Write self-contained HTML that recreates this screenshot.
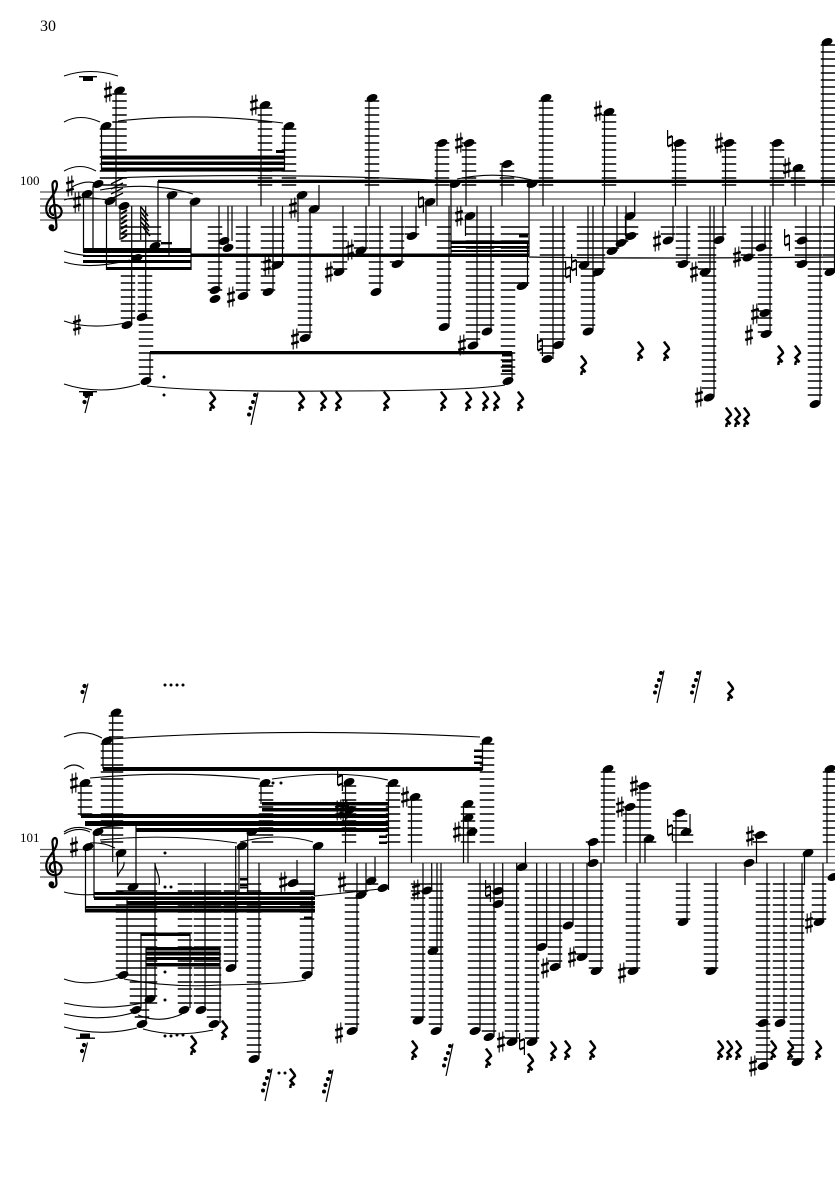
<!DOCTYPE html>
<html><head><meta charset="utf-8"><title>Score page 30</title>
<style>
html,body{margin:0;padding:0;background:#fff}
svg{display:block}
.st{stroke:#555;stroke-width:1.2;fill:none}
.l{stroke:#000;stroke-width:14.5;stroke-dasharray:1.6 5.4;fill:none}
.v{stroke:#000;stroke-width:1.2;fill:none}
.sl{stroke:#000;stroke-width:1.1;fill:none}
.c{stroke:#000;fill:none;stroke-width:2.2}
text{font-family:"Liberation Serif",serif;fill:#000}
</style></head><body>
<svg width="835" height="1181" viewBox="0 0 835 1181" xmlns="http://www.w3.org/2000/svg">
<defs>
<ellipse id="n" rx="5.7" ry="3.6" transform="rotate(-22)"/>
<g id="s"><path d="M-1.8-9.5V10.5M1.8-10.5V9.5" stroke="#000" stroke-width="1.1"/><path d="M-3.8-2.6L3.8-5M-3.8 5L3.8 2.6" stroke="#000" stroke-width="2.6"/></g>
<g id="h"><path d="M-2.4-11V5M2.4-5V11" stroke="#000" stroke-width="1.2"/><path d="M-2.4-3L2.4-5M-2.4 5.500L2.4 3.500" stroke="#000" stroke-width="2.2"/></g>
<path id="r" d="M-2-9.500C0-6 3-4 3-2L-1.500 2.500L2.500 7C0 5.500-2 6-1.500 10" fill="none" stroke="#000" stroke-width="2.500"/>
<g id="t"><path d="M4-16.500L-3 16" stroke="#000" stroke-width="1.200" fill="none"/><circle cx="1" cy="-14" r="2"/><circle cx="-1" cy="-7" r="2"/><circle cx="-3.500" cy="-1" r="2"/><circle cx="-5" cy="5.500" r="2"/></g>
<g id="u"><path d="M3-9.500L-2 10" stroke="#000" stroke-width="1.200" fill="none"/><circle cx="-.5" cy="-7" r="2.100"/><circle cx="-2.500" cy="-1" r="2.100"/></g>
<g id="g"><path class="c" d="M56.500 226L52.500 186C52 182 55 179.500 56.500 182C58.500 187 54 194 50 199C46 204 45 210 48 215C51 219.500 60 219.500 61.500 213C62.500 207 56 203 52 206C48 209 50 215 54 215"/><path class="c" d="M56.500 226C57 231 50 232 49.500 227"/><circle cx="51.500" cy="227" r="2.800"/></g>
</defs>

<text x="40" y="31" font-size="16">30</text>
<text x="20" y="185" font-size="13">100</text>
<text x="20" y="842" font-size="13">101</text>

<!-- staves -->
<path class="st" d="M40 192H835M40 199H835M40 206H835M40 213H835M40 220H835"/>
<path class="st" d="M40 849.500H835M40 856.500H835M40 863H835M40 870H835M40 877H835"/>
<use href="#g"/><use href="#g" y="657"/>

<!-- ledger stacks, system 1 above -->
<path class="l" d="M119.500 93.200V186M107 128.200V186M265 107.200V186M289 128.200V186M372 100.200V186M442 142.200V186M469 142.200V186M507 163.200V186M546 100.200V186M609 114.200V186M679 142.200V186M729 142.200V186M777 142.200V186M798 170.200V186M828 44.200V186"/>
<!-- ledger stacks, system 1 below -->
<path class="l" d="M128 226.200V242M141 226.200V242M154 226.200V242M128 275.200V319M145 275.200V319M146 317.200V375M215 226.200V291M243 226.200V291M268 226.200V291M277 226.200V263M305 226.200V333M340 226.200V270M361 226.200V249M376 226.200V284M397 226.200V263M412 226.200V235M444 226.200V319M473 226.200V340M487 226.200V326M508 226.200V375M522 226.200V284M547 226.200V354M558 226.200V340M584 226.200V263M598 226.200V270M588 226.200V326M612 226.200V249M621 226.200V242M631 226.200V235M668 226.200V235M683 226.200V263M705 226.200V270M709 226.200V392M719 226.200V235M748 226.200V256M761 226.200V249M765 226.200V333M802 226.200V263M815 226.200V399M830 226.200V270"/>
<!-- ledger stacks, system 2 above -->
<path class="l" d="M116 715.200V843M108 743.200V843M85 785.200V815M266 785.200V843M259 834.200V843M349 785.200V843M393 785.200V843M415 799.200V843M468 806.200V843M487 743.200V843M608 771.200V843M630 806.200V843M644 785.200V843M649 841.200V843M680 813.200V843M686 834.200V843M760 834.200V843M593 841.200V843M830 771.200V843"/>
<!-- ledger stacks, system 2 below -->
<path class="l" d="M123 883.200V976M150 883.200V1004M137 883.200V1011M142 883.200V1018M185 883.200V1004M201 883.200V1004M214 883.200V1018M231 883.200V962M254 883.200V1053M293 883.200V885M307 883.200V969M352 883.200V1025M361 883.200V892M371 883.200V885M418 883.200V1018M427 883.200V885M436 883.200V1025M475 883.200V1025M489 883.200V1032M498 883.200V899M512 883.200V1039M532 883.200V1039M541 883.200V941M555 883.200V962M568 883.200V920M582 883.200V955M596 883.200V969M633 883.200V969M683 883.200V920M711 883.200V969M763 883.200V1060M780 883.200V1018M797 883.200V1060M819 883.200V920"/>

<!-- stems -->
<path class="v" d="M116 92V206M101.500 128V171M261 107V206M284.500 128V171M369 98V206M437 145V206M466 145V206M502 166V206M543 100V206M604.500 114V206M675.500 145V206M725.500 145V206M773 145V206M795 170V206M823 44V206M158 181V246M169 197V256M191 203V270M83.500 196V252M93 186V250M106.500 203V270M120 208V240M131.700 206V325M145.700 206V317M140.700 206V240M150 352V381M219 206V290M228 206V246M232 206V241M247 206V296M273 206V292M282.500 206V265M310 210V338M298 197V222M319 185V209M343 206V272M366 206V250M380 206V292M402 206V264M416 206V236M426 205V226M449 206V327M451 186V256M529 186V256M465.500 218V236M477 206V345M491 206V331M512 352V381M527.500 241V286M553 206V359M563 206V345M588 206V265M603 206V272M593 206V331M617 206V251M626 206V243M634.700 192V216M625.500 218V236M673 206V240M687 206V264M710 206V272M714 206V397M723 206V240M752 206V257M765 206V248M770 206V334M806 206V264M820 206V404M834.500 206V272"/>
<path class="v" d="M112.700 715V862M103 743V769M81 785V816M261 785V804M85.500 849V912M94 834V898M117.500 855V877M136 825V887M155 863V998M235.700 846V968M239 846V893M247.700 835V895M259 863V1059M297 860V883M314.500 848V896M312 896V975M345.500 785V863M388.500 786V890M375 857V881M357 863V1031M366 863V895M411.500 799V863M463.500 806V863M468 820V863M482.500 742V770M423 863V1020M431.700 863V890M437 863V951M441 863V1031M480 863V1031M494 863V1037M502.700 863V904M516.700 863V1042M525.500 842V867M536.700 863V1042M546.700 863V947M560 863V968M573 863V925M587 863V957M589.500 843V863M591 863V866M601 863V971M604 771V863M626 809V863M637 863V971M640 788V863M645 841V863M676 815V863M687 863V922M690 814V832M716 863V971M745 865V885M756.500 837V863M767 863V1066M784 863V1023M802 863V1062M804.500 855V885M823 863V922M827 771V863M141 933V1008M146 947V1023M190 933V1008M205 863V1008M220 948V1023M127 900V975"/>

<!-- beams -->
<g fill="#000">
<rect x="101" y="155.500" width="183.500" height="4"/><rect x="101" y="161.500" width="183.500" height="3.500"/><rect x="101" y="167.500" width="183.500" height="4"/>
<rect x="158" y="179.700" width="677" height="3.300"/>
<rect x="83" y="248" width="108" height="5"/><rect x="83" y="255" width="108" height="2"/><rect x="83" y="260" width="108" height="3"/><rect x="106" y="267" width="85" height="3"/>
<rect x="191" y="253.500" width="338" height="3.500"/>
<rect x="451" y="240.500" width="78" height="3.500"/><rect x="451" y="246" width="78" height="2"/><rect x="451" y="250" width="78" height="2"/>
<rect x="150" y="351" width="362" height="3.300"/>
<rect x="502" y="354" width="10" height="2.500"/><rect x="502" y="360" width="10" height="2.500"/><rect x="502" y="364.500" width="10" height="2.500"/><rect x="502" y="369.500" width="10" height="2.500"/>
<rect x="276" y="150" width="8" height="3"/><rect x="161" y="242" width="11" height="2.400"/><rect x="519" y="234.500" width="9" height="3"/>
<rect x="79" y="76" width="18" height="1.400"/><rect x="83" y="77" width="10" height="4"/>
<rect x="79" y="391" width="18" height="1.400"/><rect x="83" y="392" width="10" height="4"/>
<rect x="76" y="1037.500" width="19" height="1.400"/><rect x="80" y="1033.500" width="10" height="4"/>

<rect x="103" y="767" width="379.500" height="4"/>
<rect x="81" y="814" width="308" height="4"/><rect x="85" y="821" width="304" height="5"/><rect x="136" y="828" width="253" height="4"/>
<rect x="262" y="802" width="127" height="3.500"/><rect x="262" y="808" width="127" height="3.500"/>
<rect x="474" y="749.500" width="8" height="2.500"/><rect x="474" y="755.500" width="8" height="2.500"/><rect x="474" y="761.500" width="8" height="2.500"/>
<rect x="379" y="835.500" width="8" height="2.500"/><rect x="379" y="841.500" width="8" height="2.500"/>
<rect x="240" y="878" width="8" height="2.500"/><rect x="240" y="883.500" width="8" height="2.500"/><rect x="240" y="886.500" width="8" height="2"/>
<rect x="94" y="892" width="221" height="3"/><rect x="94" y="896.500" width="221" height="3.500"/><rect x="127" y="901" width="188" height="4"/><rect x="85" y="906" width="230" height="2.500"/><rect x="85" y="909" width="230" height="3.500"/>
<rect x="304" y="916.500" width="8" height="2.500"/>
<rect x="141" y="932.500" width="49" height="3.500"/><rect x="146" y="947" width="74" height="3.500"/><rect x="146" y="951.500" width="74" height="4"/><rect x="146" y="957" width="74" height="3"/><rect x="146" y="963" width="74" height="3.500"/>
</g>

<!-- flag hatching -->
<g stroke="#000" fill="none">
<path stroke-width="2" d="M121 214l6-4M121 219l6-4M121 224l6-4M121 229l6-4M121 234l6-4M121 239l6-4"/>
<path stroke-width="1.500" d="M141 207l7 9M141 212l7 9M141 217l8 9M141 222l8 9M143 227l7 9"/>
<path stroke-width="1.300" d="M111 184l12-6M111 189l12-6M111 194l12-6M111 199l12-6"/>
<path stroke-width="1.200" d="M117.500 877C118 872 125 868 124 862M155 863C155 870 161 876 159 885"/>
</g>

<!-- slurs -->
<g>
<path class="sl" d="M64 76Q90 67 118 76M64 122Q80 113 100 122M64 171Q80 162 96 171M118 121Q200 112 283 123M110 178Q280 172 452 181M457 179Q495 171 532 180M72 187Q85 180 95 183M64 200Q80 195 107 200M100 190Q150 181 193 194M64 384Q100 396 140 384M147 386Q200 392 330 391Q470 391 505 385M64 321Q90 330 125 323M64 251Q72 254 90 256M64 262Q90 270 130 260"/>
<path stroke="#000" stroke-width="1.300" fill="none" d="M529 257Q650 259 835 257"/>
<path class="sl" d="M64 737Q84 728 102 738M111 739Q290 727 480 737M90 778Q175 770 260 779M64 769Q74 761 84 769M272 779Q340 769 388 780M64 832Q75 824 92 830M64 834Q78 826 90 832M90 843Q103 842 115 848M100 840Q170 833 237 843M240 842Q280 832 313 842M64 892Q85 898 125 891M100 828Q115 825 136 825M315 896Q345 893 380 889M64 979Q85 987 118 978M124 979Q170 988 220 985Q285 984 306 980M64 1003Q105 1012 147 1002M64 1014Q100 1022 132 1013M64 1027Q100 1037 137 1028M138 1015Q160 1024 182 1014M143 1029Q175 1038 213 1030"/>
</g>

<!-- noteheads -->
<g fill="#000">
<use href="#n" x="119.500" y="90.500"/><use href="#n" x="106" y="126"/><use href="#n" x="265" y="105"/><use href="#n" x="289" y="126"/><use href="#n" x="372" y="98"/><use href="#n" x="442" y="143"/><use href="#n" x="469" y="143"/><use href="#n" x="507" y="164"/><use href="#n" x="546" y="98"/><use href="#n" x="609" y="112"/><use href="#n" x="679" y="143"/><use href="#n" x="729" y="143"/><use href="#n" x="777" y="143"/><use href="#n" x="798" y="168"/><use href="#n" x="827" y="42"/>
<use href="#n" x="87" y="194"/><use href="#n" x="98" y="184"/><use href="#n" x="110" y="201"/><use href="#n" x="124" y="206"/><use href="#n" x="172" y="195"/><use href="#n" x="195" y="201.500"/><use href="#n" x="302" y="195"/><use href="#n" x="314" y="209"/><use href="#n" x="430" y="202"/><use href="#n" x="455" y="184"/><use href="#n" x="532" y="184"/><use href="#n" x="470" y="216"/><use href="#n" x="630" y="216"/>
<use href="#n" x="155" y="246"/><use href="#n" x="137" y="258"/><use href="#n" x="127" y="325"/><use href="#n" x="142" y="317"/><use href="#n" x="146" y="381"/><use href="#n" x="508" y="381"/><use href="#n" x="224" y="241"/><use href="#n" x="228" y="248"/><use href="#n" x="215" y="290"/><use href="#n" x="215" y="299"/><use href="#n" x="243" y="296"/><use href="#n" x="268" y="292"/><use href="#n" x="277" y="265"/><use href="#n" x="305" y="338"/><use href="#n" x="339" y="272"/><use href="#n" x="361" y="250.500"/><use href="#n" x="376" y="292"/><use href="#n" x="397" y="264"/><use href="#n" x="412" y="236"/><use href="#n" x="444" y="327"/><use href="#n" x="473" y="345.500"/><use href="#n" x="487" y="331.500"/><use href="#n" x="522" y="286"/><use href="#n" x="547" y="359"/><use href="#n" x="558" y="345"/><use href="#n" x="584" y="265"/><use href="#n" x="598" y="272"/><use href="#n" x="588" y="331.500"/><use href="#n" x="612" y="251"/><use href="#n" x="621" y="243"/><use href="#n" x="631" y="236"/><use href="#n" x="668" y="240.500"/><use href="#n" x="683" y="264"/><use href="#n" x="705" y="272"/><use href="#n" x="719" y="240"/><use href="#n" x="709" y="397.500"/><use href="#n" x="748" y="257.500"/><use href="#n" x="761" y="247.500"/><use href="#n" x="765" y="313"/><use href="#n" x="766" y="334"/><use href="#n" x="802" y="240.500"/><use href="#n" x="802" y="264"/><use href="#n" x="815" y="404"/><use href="#n" x="830" y="272"/>

<use href="#n" x="116" y="712.500"/><use href="#n" x="107" y="741"/><use href="#n" x="85" y="783"/><use href="#n" x="265" y="783"/><use href="#n" x="98" y="832"/><use href="#n" x="88" y="847"/><use href="#n" x="121" y="853"/><use href="#n" x="133" y="887"/><use href="#n" x="242" y="846"/><use href="#n" x="252" y="832"/><use href="#n" x="293" y="883"/><use href="#n" x="318" y="846"/><use href="#n" x="349" y="782"/><use href="#n" x="350" y="810"/><use href="#n" x="393" y="783"/><use href="#n" x="383" y="888"/><use href="#n" x="371" y="881"/><use href="#n" x="361" y="895"/><use href="#n" x="415" y="797"/><use href="#n" x="468" y="804"/><use href="#n" x="468" y="818"/><use href="#n" x="472" y="832"/><use href="#n" x="487" y="740.500"/><use href="#n" x="522" y="867"/>
<use href="#n" x="608" y="769"/><use href="#n" x="630" y="807"/><use href="#n" x="644" y="786"/><use href="#n" x="649" y="839"/><use href="#n" x="680" y="813"/><use href="#n" x="686" y="832"/><use href="#n" x="760" y="835"/><use href="#n" x="749" y="863"/><use href="#n" x="808" y="853"/><use href="#n" x="830" y="769"/><use href="#n" x="833" y="877"/><use href="#n" x="593" y="842"/><use href="#n" x="593" y="863"/>
<use href="#n" x="123" y="975"/><use href="#n" x="136" y="1010"/><use href="#n" x="142" y="1024"/><use href="#n" x="150" y="999"/><use href="#n" x="184" y="1010"/><use href="#n" x="201" y="1010"/><use href="#n" x="214" y="1024"/><use href="#n" x="231" y="968"/><use href="#n" x="254" y="1059"/><use href="#n" x="307" y="975"/><use href="#n" x="352" y="1031"/><use href="#n" x="418" y="1020.500"/><use href="#n" x="427" y="890.500"/><use href="#n" x="433" y="951"/><use href="#n" x="436" y="1031"/><use href="#n" x="475" y="1031"/><use href="#n" x="489" y="1037"/><use href="#n" x="498" y="891"/><use href="#n" x="498" y="904"/><use href="#n" x="512" y="1042"/><use href="#n" x="532" y="1042"/><use href="#n" x="541.500" y="947"/><use href="#n" x="555" y="967"/><use href="#n" x="568" y="925.500"/><use href="#n" x="582" y="957"/><use href="#n" x="596" y="971"/><use href="#n" x="633" y="971"/><use href="#n" x="683" y="922"/><use href="#n" x="711" y="971"/><use href="#n" x="763" y="1023"/><use href="#n" x="763" y="1066"/><use href="#n" x="780" y="1023"/><use href="#n" x="797" y="1062"/><use href="#n" x="819" y="922"/>
</g>

<!-- sharps -->
<use href="#s" x="108" y="92"/><use href="#s" x="254" y="105"/><use href="#s" x="70" y="186"/><use href="#s" x="77" y="202"/><use href="#s" x="77" y="325"/><use href="#s" x="231" y="297"/><use href="#s" x="267" y="265"/><use href="#s" x="293" y="208"/><use href="#s" x="295" y="339"/><use href="#s" x="329" y="272"/><use href="#s" x="350" y="250"/><use href="#s" x="459" y="143"/><use href="#s" x="459" y="216"/><use href="#s" x="462" y="345"/><use href="#s" x="598" y="111"/><use href="#s" x="719" y="143"/><use href="#s" x="787" y="168"/><use href="#s" x="657" y="241"/><use href="#s" x="694" y="272"/><use href="#s" x="699" y="397"/><use href="#s" x="737" y="257"/><use href="#s" x="755" y="314"/><use href="#s" x="749" y="335"/>
<use href="#s" x="74" y="783"/><use href="#s" x="74" y="847"/><use href="#s" x="283" y="882"/><use href="#s" x="339" y="810"/><use href="#s" x="345" y="810"/><use href="#s" x="342" y="882"/><use href="#s" x="405" y="797"/><use href="#s" x="416" y="890"/><use href="#s" x="457" y="832"/><use href="#s" x="339" y="1033"/><use href="#s" x="501" y="1042"/><use href="#s" x="545" y="968"/><use href="#s" x="572" y="957"/><use href="#s" x="620" y="807"/><use href="#s" x="634" y="786"/><use href="#s" x="622" y="973"/><use href="#s" x="750" y="836"/><use href="#s" x="753" y="1066"/><use href="#s" x="809" y="923"/>

<!-- naturals -->
<use href="#h" x="421" y="202"/><use href="#h" x="540" y="345"/><use href="#h" x="568" y="272"/><use href="#h" x="574" y="265"/><use href="#h" x="670" y="141"/><use href="#h" x="787" y="240"/><use href="#h" x="340" y="780"/><use href="#h" x="488" y="891"/><use href="#h" x="522" y="1044"/><use href="#h" x="670" y="830"/>

<!-- rests -->
<use href="#r" x="212" y="401"/><use href="#r" x="301" y="401"/><use href="#r" x="323" y="401"/><use href="#r" x="338" y="401"/><use href="#r" x="386" y="401"/><use href="#r" x="443" y="401"/><use href="#r" x="468" y="401"/><use href="#r" x="485" y="401"/><use href="#r" x="496" y="401"/><use href="#r" x="520" y="401"/><use href="#r" x="583" y="365"/><use href="#r" x="640" y="351"/><use href="#r" x="666" y="351"/><use href="#r" x="780" y="355"/><use href="#r" x="797" y="355"/><use href="#r" x="728" y="417"/><use href="#r" x="737" y="417"/><use href="#r" x="746" y="417"/>
<use href="#r" x="730" y="691"/><use href="#r" x="224" y="1030"/><use href="#r" x="193" y="1045"/><use href="#r" x="292" y="1078"/><use href="#r" x="414" y="1050"/><use href="#r" x="488" y="1058"/><use href="#r" x="530" y="1063"/><use href="#r" x="553" y="1051"/><use href="#r" x="567" y="1050"/><use href="#r" x="592" y="1050"/><use href="#r" x="720" y="1050"/><use href="#r" x="729" y="1050"/><use href="#r" x="738" y="1050"/><use href="#r" x="773" y="1050"/><use href="#r" x="790" y="1050"/><use href="#r" x="818" y="1050"/>
<use href="#t" x="254" y="409"/><use href="#t" x="660" y="687"/><use href="#t" x="697" y="687"/><use href="#t" x="449" y="1060"/><use href="#t" x="268" y="1085"/><use href="#t" x="329" y="1086"/>
<use href="#u" x="87" y="403"/><use href="#u" x="85" y="693"/><use href="#u" x="84.500" y="1052"/>

<!-- dots -->
<g fill="#000">
<circle cx="164" cy="377" r="1.500"/><circle cx="164" cy="395" r="1.500"/>
<circle cx="165" cy="685" r="1.500"/><circle cx="171" cy="685" r="1.500"/><circle cx="177" cy="685" r="1.500"/><circle cx="183" cy="685" r="1.500"/>
<circle cx="273" cy="783" r="1.500"/><circle cx="281" cy="783" r="1.500"/>
<circle cx="165" cy="853" r="1.500"/><circle cx="165" cy="887" r="1.500"/><circle cx="171" cy="887" r="1.500"/>
<circle cx="165" cy="972" r="1.500"/><circle cx="165" cy="1000" r="1.500"/>
<circle cx="165" cy="1036" r="1.500"/><circle cx="171" cy="1036" r="1.500"/><circle cx="177" cy="1035" r="1.500"/><circle cx="183" cy="1035" r="1.500"/>
<circle cx="279" cy="1073" r="1.500"/><circle cx="285" cy="1073" r="1.500"/>
</g>
</svg>
</body></html>
